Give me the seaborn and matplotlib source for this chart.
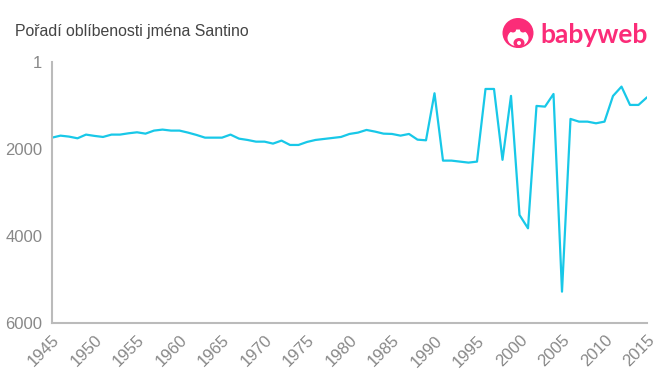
import matplotlib
matplotlib.use("Agg")
import matplotlib.pyplot as plt
import seaborn as sns
import pandas as pd
from matplotlib.patches import Ellipse

years = list(range(1945, 2016))
ranks = [1740, 1694, 1716, 1755, 1670, 1700, 1724, 1670, 1670, 1640,
         1617, 1648, 1578, 1555, 1578, 1578, 1624, 1678, 1740, 1740,
         1740, 1670, 1763, 1793, 1832, 1832, 1877, 1808, 1908, 1908,
         1839, 1793, 1770, 1747, 1724, 1655, 1624, 1563, 1601, 1648,
         1655, 1694, 1655, 1786, 1801, 720, 2268, 2268, 2291, 2314,
         2291, 621, 621, 2250, 780, 3517, 3824, 1011, 1027, 736,
         5280, 1310, 1372, 1372, 1410, 1372, 782, 567, 988, 988, 813]
xticks = list(range(1945, 2016, 5))
yticks = [1, 2000, 4000, 6000]

df = pd.DataFrame({"year": years, "rank": ranks})

sns.set_style("white")
plt.rcParams['font.family'] = ['Liberation Sans', 'DejaVu Sans']

W, H = 660, 375
fig = plt.figure(figsize=(6.6, 3.75), dpi=100)
ax = fig.add_axes([0.0788, 0.1387, 0.9015, 0.696])
sns.lineplot(data=df, x="year", y="rank", ax=ax, color="#18c8e8", linewidth=1.6)

ax.set_xlim(1945, 2015)
ax.set_ylim(6000, 1)
ax.set_xticks(xticks)
ax.set_xticklabels([str(t) for t in xticks], rotation=45, ha="right", rotation_mode="anchor")
ax.set_yticks(yticks)
ax.set_yticklabels([str(t) for t in yticks])
ax.set_xlabel("")
ax.set_ylabel("")
for s in ["top", "right"]:
    ax.spines[s].set_visible(False)
for s in ["left", "bottom"]:
    ax.spines[s].set_color("#bbbbbb")
    ax.spines[s].set_linewidth(1.5)
ax.tick_params(axis="both", colors="#bbbbbb", length=5, width=1.2, labelcolor="#888888", labelsize=12)
ax.tick_params(axis="x", pad=2)
ax.tick_params(axis="y", pad=2)

fig.text(0.023, 0.917, "Pořadí oblíbenosti jména Santino", fontsize=11.4, color="#444444",
         va="center", ha="left")

# logo (pixel-based helper)
pink = "#fb2c78"
def px_ellipse(cx, cy, w, h, color):
    fig.patches.append(Ellipse((cx / W, 1 - cy / H), w / W, h / H,
                               transform=fig.transFigure, facecolor=color, edgecolor="none"))

px_ellipse(518, 33, 31, 30, pink)
px_ellipse(518, 38, 21, 17, "white")
px_ellipse(513, 30, 6, 5, pink)
px_ellipse(523, 30, 6, 5, pink)
px_ellipse(519, 43, 11, 10, pink)
px_ellipse(519, 43, 4, 4, "white")
fig.text(540 / W, 0.907, "babyweb", fontsize=19, color=pink, fontweight="bold",
         family=["Lato", "DejaVu Sans"], va="center", ha="left")

fig.savefig("out.png", dpi=100)
